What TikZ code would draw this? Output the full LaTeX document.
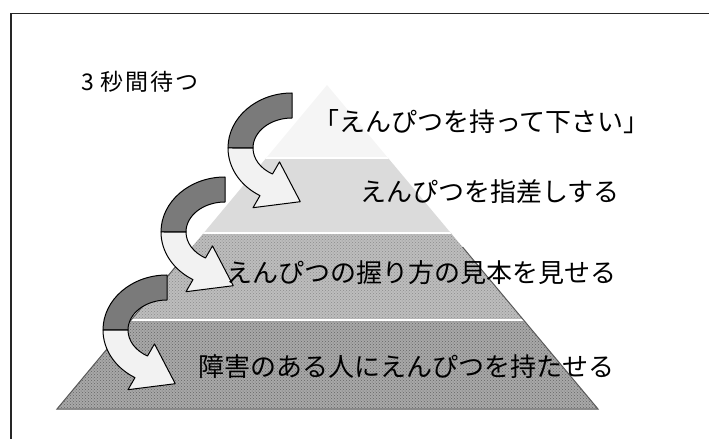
\documentclass[tikz,border=0pt]{standalone}
\usepackage{fontspec}
\newfontfamily\jp{Noto Sans CJK JP}
\usetikzlibrary{calc,patterns}
\tikzset{
  ribbon/.style={draw=black, line width=1pt, line join=round},
  lbl/.style={anchor=west, inner sep=0pt, font=\jp\fontsize{26}{30}\selectfont},
  uarrow/.pic={
    \path[ribbon, fill=black!52] (0,0) arc[start angle=90,end angle=180,x radius=64,y radius=55]
      -- (-39,-55) arc[start angle=180,end angle=90,x radius=39,y radius=30] -- cycle;
    \path[ribbon, fill=black!5] (-64,-55) arc[start angle=180,end angle=240,x radius=64,y radius=55]
      -- (-39,-114.7) -- (8.3,-108.7) -- (-12.5,-68.9) -- (-19.5,-81)
      arc[start angle=240,end angle=180,x radius=39,y radius=30] -- cycle;
  }
}
\begin{document}
\begin{tikzpicture}[x=1pt,y=1pt]
\useasboundingbox (0,0) rectangle (709,439);
% frame
\draw[line width=1.8pt, black!85] (709,425.5) -- (11,425.5) -- (11,0);
% pyramid
\coordinate (A) at (327,354);
\coordinate (BL) at (57,30);
\coordinate (BR) at (598,30);
\begin{scope}
  \clip (A) -- (BL) -- (BR) -- cycle;
  \fill[black!4] (0,281) rectangle (709,439);
  \fill[black!14] (0,206) rectangle (709,281);
  \fill[black!26] (0,119) rectangle (709,206);
  \fill[black!34] (0,0) rectangle (709,119);
  \fill[pattern=crosshatch dots, pattern color=black!45] (0,119) rectangle (709,206);
  \fill[pattern=crosshatch dots, pattern color=black!60] (0,0) rectangle (709,119);
  \draw[white, line width=2.5pt] (0,281) -- (709,281);
  \draw[white, line width=2.5pt] (0,206) -- (709,206);
  \draw[white, line width=2.5pt] (0,119) -- (709,119);
\end{scope}
\draw[black!65, line width=1pt] ($(BL)!0.5!(A)$) -- (BL) -- (BR) -- ($(BR)!0.5!(A)$);
% arrows
\pic (a1) at (292,346) {uarrow};
\pic (a2) at (225,262) {uarrow};
\pic (a3) at (167,164) {uarrow};
% texts
\node[lbl, font=\jp\fontsize{23}{27}\selectfont\addfontfeature{LetterSpace=8}] (t0) at (81,357) {3 秒間待つ};
\node[lbl] (t1) at (313,317) {「えんぴつを持って下さい」};
\node[lbl] (t2) at (360,247) {えんぴつを指差しする};
\node[lbl] (t3) at (226,166) {えんぴつの握り方の見本を見せる};
\node[lbl] (t4) at (198,72) {障害のある人にえんぴつを持たせる};
\end{tikzpicture}
\end{document}
